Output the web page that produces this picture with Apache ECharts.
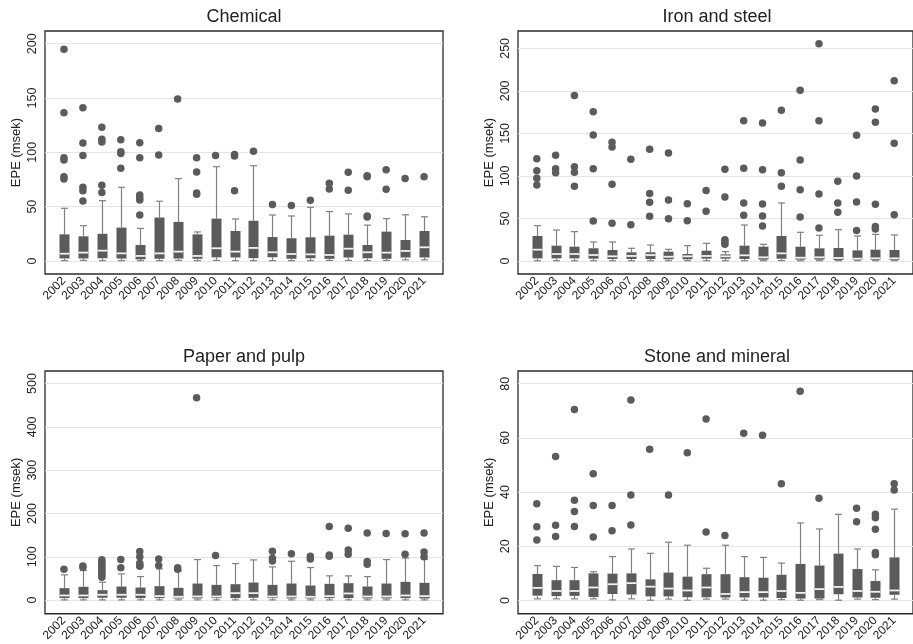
<!DOCTYPE html>
<html><head><meta charset="utf-8">
<script src="https://cdn.jsdelivr.net/npm/echarts@6/dist/echarts.min.js"></script>
<style>html,body{margin:0;padding:0;background:#fff}#c{width:913px;height:644px}</style>
</head><body><div id="c"></div>
<script>
const years = [2002,2003,2004,2005,2006,2007,2008,2009,2010,2011,2012,2013,2014,2015,2016,2017,2018,2019,2020,2021];

// Chemical
const chemMin = [0.3,0.5,0.3,0.3,0.3,0.3,0.5,0.3,0.5,0.3,0.3,0.3,0.3,0.3,0.5,0.5,0.3,0.5,1,1];
const chemQ1  = [2.3,2.3,2.5,2.2,1.5,2,2.2,2,3.3,3.2,2.6,3.4,2,2.5,2,3.2,2.5,2,3.2,3.2];
const chemMed = [6.7,7.7,9.5,7,4.6,7,8.6,4.6,11.7,8.6,12,8,6.4,6.1,5.5,11.3,8,7.7,9.2,12.6];
const chemQ3  = [24.5,22.7,25,30.7,14.7,40,36,24.5,39,27.6,37,22,20.9,21.8,23.3,24.2,14.7,27,19.3,27.6];
const chemMax = [48.5,32.5,55.5,67.8,30,55,75.8,26.7,86.8,38.7,87.7,42.3,41.4,49.4,45.5,43.3,33,39,42.5,40.7];
const chemOut = [[195,136.5,95,93,77.5,75.5],[141,108.6,97,67.8,64.7,55.2],[123,112,109.5,69.6,63],[111.7,100.6,99,85.3],
  [108.9,95.1,60.7,58,56.1,42.3],[122,97.5],[149],[95,82,62.5,61.5],[97.2],[97.9,96.6,64.7],[101],[52],[51],[55.8],
  [71.5,66.3],[81.6,65],[78.5,77.5,41.4,40.5],[84,66],[76],[77.6]];
const chemTicks = [0,50,100,150,200];

// Iron and steel
const ironMin = [0.3,0.3,0.3,0.3,0.3,0.3,0.3,0.3,0.3,0.3,0.3,0.3,0.3,0.5,0.3,0.3,0.3,0.3,0.3,0.3];
const ironQ1  = [3.1,3.1,3.1,2.7,2.3,2.3,2.3,2,2,2.7,2.7,2.3,1.6,2.7,1.6,1.6,1.2,1.2,1.2,1.2];
const ironMed = [13.3,8.2,8.2,7,5.5,5.9,7,5,5.5,5.9,5.5,6.7,4.3,9,3.9,4.3,3.5,2.7,3.1,3.1];
const ironQ3  = [29.4,18,16.8,14.9,12.9,10.2,10.2,11,8.2,12.1,7.8,18,16.8,29.4,16.8,14.9,15.3,12.5,13.3,12.9];
const ironMax = [41.5,36.4,34.5,22.3,22.3,14.9,18.8,13.7,18,20.8,11,42.3,19.6,68.2,33.7,30.2,36.8,29.4,31.3,30.6];
const ironOut = [[120.3,106.2,97.2,89.3],[124.2,108.5,103.8],[194.7,110.9,104.2,87.8],[175.5,148.1,108.5,47],
  [139.5,134,90.1,44.3],[119.5,42.7],[131.3,79.2,69,52.5],[127,71.7,49.8],[67.4,47.4],[83,58.4],
  [107.8,75.2,25,22.5,19.6],[165,109,68.2,53.7],[162.2,107.4,67,52.9,41.1],[177.1,103.8,87.8],
  [200.6,118.7,83.9,51.7],[255.5,165,78.8,38.8],[93.7,68.2,57.2],[147.7,99.9,69.4,35.7],
  [178.7,163,66.6,40.4,37.6],[212,138.3,54.5]];
const ironTicks = [0,50,100,150,200,250];

// Paper and pulp
const paperMin = [0.5,0.5,0.5,0.5,0.5,0.5,0.5,0.5,0.5,0.5,0.5,0.5,0.5,0.5,0.5,0.5,0.5,0.5,0.5,0.5];
const paperQ1  = [4.6,4.6,5.4,5.4,4.6,4.6,3.8,3.8,4.6,4.6,5.4,4.6,3.8,3.8,4.6,4.6,3.8,3.8,4.6,3.8];
const paperMed = [10.7,10.7,12.3,12.3,12.3,9.2,7.7,8.4,8.4,16.1,16.1,8.4,8.4,7.7,9.2,15.3,8.4,8.4,10.7,9.2];
const paperQ3  = [27.6,30.7,23,31.4,29,32.2,28.4,38.3,35.3,36.8,40.6,35.3,38.3,33.7,37.6,39.1,31.4,38.3,42.2,39.9];
const paperMax = [58.3,68.3,41.4,60.6,54.4,72,67.5,93.6,79.8,84.4,92.8,76.7,89.7,75.2,56,56,54.4,93.6,97,94];
const paperOut = [[71.3],[79,76],[93,88,83,78,73,68,63,58,53],[93.6,75],[112,100,85,80,78],[95,80],[75,71],[467],[103],[],[],
  [112.7,96.6,90.5],[107],[101,95],[170,104,101],[166,116,106],[155,89,83],[154],[153,106],[155,111,100]];
const paperTicks = [0,100,200,300,400,500];

// Stone and mineral
const stoneMin = [0.6,0.6,0.6,0.6,0.2,0.6,0.1,0.5,0.1,0.5,0.5,0.1,0.1,0.3,0.1,0.3,0.1,0.5,0.3,0.5];
const stoneQ1  = [1.8,1.6,1.7,1.3,2.4,2.2,1.5,1.5,1.2,1.2,1.1,1.1,1.1,0.9,0.7,0.7,2.3,1.1,1,2.1];
const stoneMed = [4.65,3.5,3.5,4.8,6,6.4,5.1,4.4,3.7,4.8,2.4,3.1,3.1,3.5,2.8,4.2,5,3.5,3.2,3.7];
const stoneQ3  = [9.8,7.5,7.5,10,9.9,10,7.8,10.3,8.8,9.7,9.7,8.6,8.4,9.5,13.5,12.9,17.3,11.6,7.2,15.9];
const stoneMax = [12.85,12.6,12.2,10.6,16.2,19,17.4,21.5,20.4,11.9,20.4,16.2,15.9,13.8,28.6,26.4,31.8,19,11.3,33.7];
const stoneOut = [[35.7,27.2,22.3],[53.1,27.8,23.6],[70.5,37,32.8,27.3],[46.8,35.1,23.4],[35.1,25.7],[74,38.9,27.9],
  [55.8],[38.9],[54.5],[67,25.3],[24],[61.7],[61],[43.1],[77.2],[37.7],[],[34,29.1],[31.8,30.5,26.3,17.7,16.9],[43.1,40.8]];
const stoneTicks = [0,20,40,60,80];

const titles = ['Chemical','Iron and steel','Paper and pulp','Stone and mineral'];

const panels = [
  {mn:chemMin,q1:chemQ1,md:chemMed,q3:chemQ3,mx:chemMax,out:chemOut,ticks:chemTicks,ymin:-12,ymax:211.7,left:45,top:31,h:243},
  {mn:ironMin,q1:ironQ1,md:ironMed,q3:ironQ3,mx:ironMax,out:ironOut,ticks:ironTicks,ymin:-15.3,ymax:270.4,left:518,top:31,h:243},
  {mn:paperMin,q1:paperQ1,md:paperMed,q3:paperQ3,mx:paperMax,out:paperOut,ticks:paperTicks,ymin:-31.5,ymax:529,left:45,top:371,h:244},
  {mn:stoneMin,q1:stoneQ1,md:stoneMed,q3:stoneQ3,mx:stoneMax,out:stoneOut,ticks:stoneTicks,ymin:-4.9,ymax:84.7,left:518,top:371,h:244}
];

const FONT = 'Liberation Sans, Arial, Helvetica, sans-serif';
const BOX = '#5b5b5b', WHISK = '#808080';
const W = 398;

function renderBox(params, api) {
  const x = api.value(0);
  const pMin = api.coord([x, api.value(1)]);
  const pQ1 = api.coord([x, api.value(2)]);
  const pMed = api.coord([x, api.value(3)]);
  const pQ3 = api.coord([x, api.value(4)]);
  const pMax = api.coord([x, api.value(5)]);
  const cx = Math.round(pMin[0]) + 0.5;
  const bw = 10, cw = 7;
  const ls = {stroke: WHISK, lineWidth: 1.2};
  return {type: 'group', children: [
    {type: 'line', shape: {x1: cx, y1: pMax[1], x2: cx, y2: pQ3[1]}, style: ls},
    {type: 'line', shape: {x1: cx - cw/2, y1: pMax[1], x2: cx + cw/2, y2: pMax[1]}, style: ls},
    {type: 'line', shape: {x1: cx, y1: pMin[1], x2: cx, y2: pQ1[1]}, style: ls},
    {type: 'line', shape: {x1: cx - cw/2, y1: pMin[1], x2: cx + cw/2, y2: pMin[1]}, style: ls},
    {type: 'rect', shape: {x: cx - bw/2, y: pQ3[1], width: bw, height: pQ1[1] - pQ3[1]}, style: {fill: BOX}},
    {type: 'line', shape: {x1: cx - bw/2, y1: pMed[1], x2: cx + bw/2, y2: pMed[1]}, style: {stroke: '#f2f2f2', lineWidth: 1.8}}
  ]};
}

const grid = [], xAxis = [], yAxis = [], series = [], title = [];
panels.forEach((p, i) => {
  grid.push({left: p.left, top: p.top, width: W, height: p.h, show: true, borderColor: '#2a2a2a', borderWidth: 1.3, backgroundColor: 'transparent'});
  title.push({text: titles[i], left: p.left + W/2, top: p.top - 23, textAlign: 'center', padding: 0,
    textStyle: {fontFamily: FONT, fontSize: 18, fontWeight: 'normal', color: '#222'}});
  xAxis.push({type: 'value', gridIndex: i, min: 2001, max: 2022, interval: 1,
    axisLine: {show: false}, axisTick: {show: false}, splitLine: {show: false},
    axisLabel: {rotate: 45, margin: 5, fontSize: 12, fontFamily: FONT, color: '#222',
      showMinLabel: false, showMaxLabel: false, formatter: v => String(v)}});
  yAxis.push({type: 'value', gridIndex: i, min: p.ymin, max: p.ymax,
    name: 'EPE (msek)', nameLocation: 'middle', nameGap: 22,
    nameTextStyle: {fontFamily: FONT, fontSize: 13, color: '#222'},
    axisLine: {show: false},
    axisTick: {show: false, customValues: p.ticks},
    axisLabel: {rotate: 90, margin: 6, fontSize: 12.5, fontFamily: FONT, color: '#222', customValues: p.ticks},
    splitLine: {show: true, lineStyle: {color: '#e4e4e4', width: 1.2}}});
  const boxData = years.map((y, k) => [y, p.mn[k], p.q1[k], p.md[k], p.q3[k], p.mx[k]]);
  series.push({type: 'custom', xAxisIndex: i, yAxisIndex: i, renderItem: renderBox,
    encode: {x: 0, y: [1,2,3,4,5]}, data: boxData, silent: true});
  const outData = [];
  years.forEach((y, k) => p.out[k].forEach(v => outData.push([y, v])));
  series.push({type: 'scatter', xAxisIndex: i, yAxisIndex: i, data: outData, symbol: 'circle', symbolSize: 7.5,
    itemStyle: {color: BOX, opacity: 1}, silent: true, z: 3});
});

const chart = echarts.init(document.getElementById('c'), null, {renderer: 'canvas'});
chart.setOption({animation: false, backgroundColor: '#fff', title, grid, xAxis, yAxis, series});
</script>
</body></html>
